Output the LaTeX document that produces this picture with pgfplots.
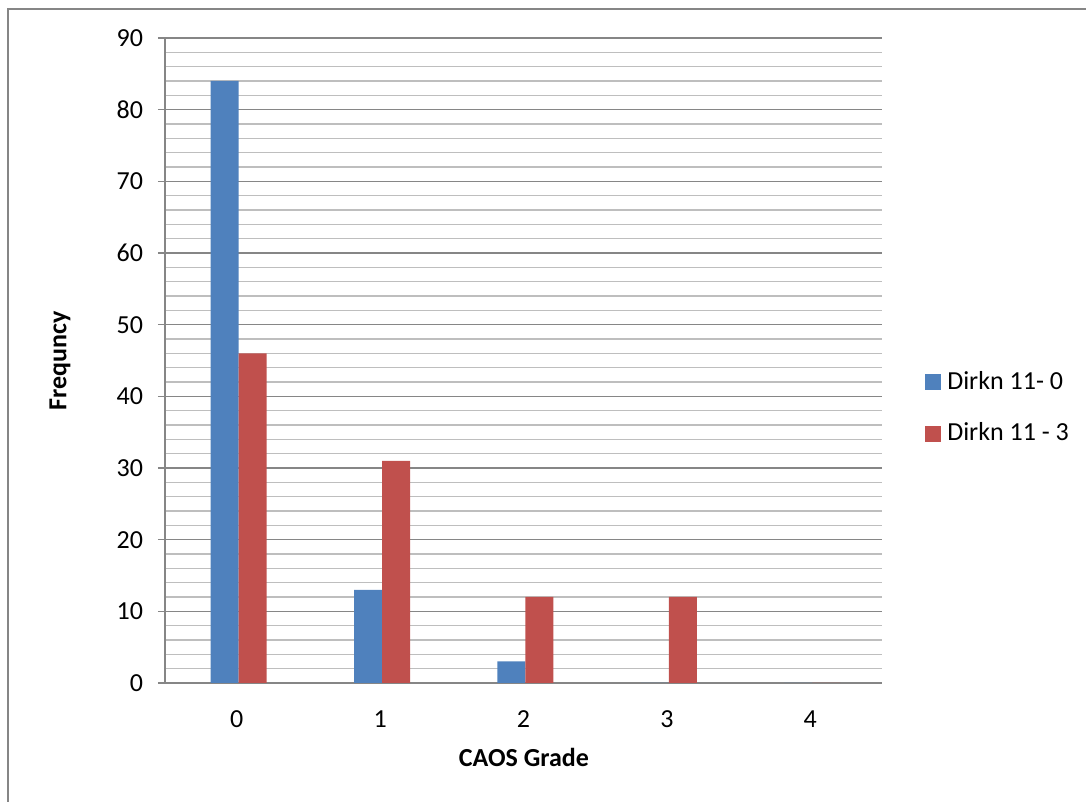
\documentclass[border=0pt]{standalone}
\usepackage{pgfplots}
\pgfplotsset{compat=1.18}
\usepackage{fontspec}
\setmainfont{Carlito}
\definecolor{barblue}{HTML}{4F81BD}
\definecolor{barred}{HTML}{C0504D}
\definecolor{axgray}{HTML}{868686}
\definecolor{mingray}{HTML}{BEBEBE}

\begin{document}
\fontsize{19.5}{23}\selectfont
\begin{tikzpicture}
% page frame (1 px = 0.75 pt)
\path[use as bounding box] (0pt,0pt) rectangle (814.5pt,601.5pt);
\draw[axgray, line width=1.5pt] (6pt,-2pt) -- (6pt,594.75pt) -- (816pt,594.75pt);
\begin{axis}[
  at={(123.75pt,89.25pt)}, anchor=south west,
  scale only axis, width=537.75pt, height=483.75pt,
  ybar=0pt, bar width=21pt,
  xmin=-0.5, xmax=4.5, ymin=0, ymax=90,
  xtick={0,1,2,3,4},
  ytick={0,10,...,90},
  minor y tick num=4,
  ymajorgrids, yminorgrids,
  major grid style={axgray, line width=1pt},
  minor grid style={mingray, line width=1pt},
  axis x line*=bottom, axis y line*=left,
  axis line style={axgray, line width=1pt, -},
  tick align=outside,
  major tick length=5.25pt, minor tick length=0pt,
  ytick style={axgray, line width=1pt},
  xtick style={draw=none},
  /pgf/number format/assume math mode=true,
  tick label style={font=\fontsize{19.5}{23}\selectfont, black},
  x tick label style={anchor=center, yshift=-22pt},
  y tick label style={anchor=east, inner sep=0pt, xshift=-11pt},
  xlabel={\textbf{CAOS Grade}},
  ylabel={\textbf{Frequncy}},
  label style={font=\fontsize{19.5}{23}\selectfont},
  xlabel style={at={(axis description cs:0.5007,-0.1147)}, anchor=center},
  ylabel style={at={(axis description cs:-0.1464,0.5)}, anchor=center},
  legend style={at={(axis description cs:1.06,0.4264)}, anchor=west,
    draw=none, fill=none, inner sep=0pt,
    nodes={inner sep=0pt, anchor=west}, row sep=22pt, column sep=4.5pt,
    font=\fontsize{19.5}{23}\selectfont},
  legend cell align=left,
  legend image code/.code={\fill[#1] (0pt,-6pt) rectangle (12pt,6pt);},
]
\addplot[fill=barblue, draw=none, xshift=1.5pt] coordinates {(0,84) (1,13) (2,3) (3,0) (4,0)};
\addplot[fill=barred, draw=none, xshift=1.5pt] coordinates {(0,46) (1,31) (2,12) (3,12) (4,0)};
\legend{Dirkn 11- 0, Dirkn 11 - 3}
\end{axis}
\end{tikzpicture}
\end{document}
